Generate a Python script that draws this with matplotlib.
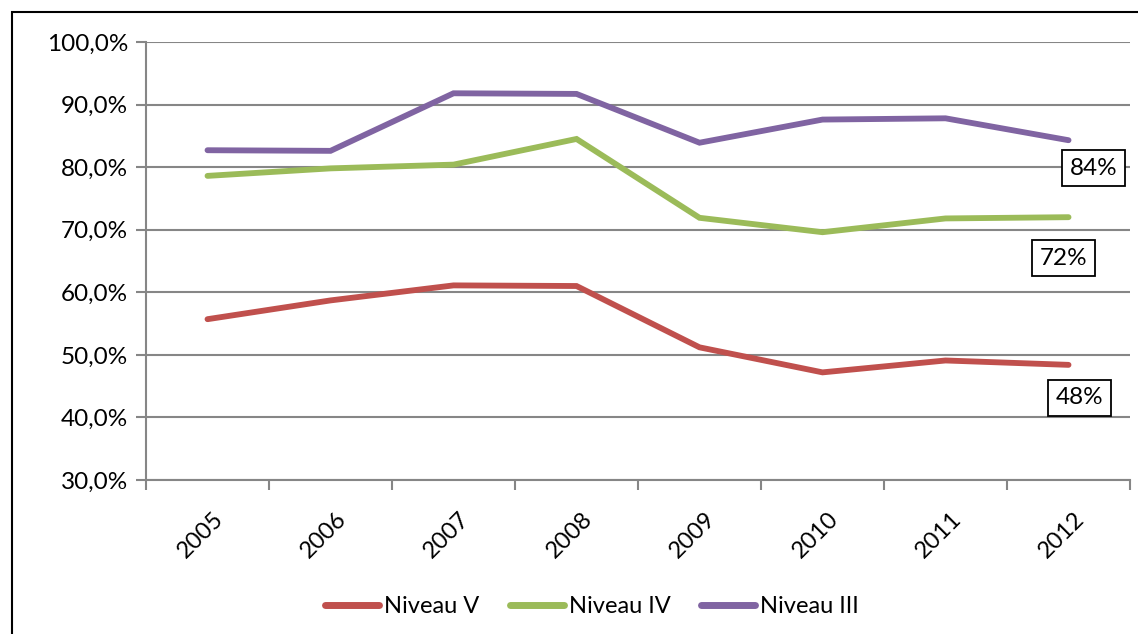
import matplotlib.pyplot as plt
import matplotlib.transforms as mtransforms
from matplotlib.patches import Rectangle

years = ['2005', '2006', '2007', '2008', '2009', '2010', '2011', '2012']
niveau_v = [55.7, 58.7, 61.1, 61.0, 51.2, 47.2, 49.1, 48.4]
niveau_iv = [78.6, 79.8, 80.4, 84.5, 71.9, 69.6, 71.8, 72.0]
niveau_iii = [82.7, 82.6, 91.8, 91.7, 83.9, 87.6, 87.8, 84.3]
y_ticks = [30, 40, 50, 60, 70, 80, 90, 100]
end_labels = ['48%', '72%', '84%']

plt.rcParams['font.family'] = ['Lato', 'DejaVu Sans']

fig = plt.figure(figsize=(11.38, 6.34), dpi=100)
ax = fig.add_axes([0.1283, 0.2429, 0.8647, 0.6909])

grid_col = '#868686'
x = list(range(len(years)))
series = [
    ('Niveau V', niveau_v, '#C0504D'),
    ('Niveau IV', niveau_iv, '#9BBB59'),
    ('Niveau III', niveau_iii, '#8064A2'),
]
for name, vals, col in series:
    ax.plot(x, vals, color=col, linewidth=4.2, label=name,
            solid_capstyle='round', solid_joinstyle='miter')

ax.set_xlim(-0.5, len(years) - 0.5)
ax.set_ylim(30, 100)
ax.set_yticks(y_ticks)
ax.set_yticklabels([f'{t:.1f}%'.replace('.', ',') for t in y_ticks],
                   fontsize=17.5)
ax.yaxis.grid(True, color=grid_col, linewidth=1.5)
ax.set_axisbelow(True)

# category boundaries carry the ticks, labels sit at the centres
ax.set_xticks([i - 0.5 for i in range(len(years) + 1)])
ax.set_xticklabels([])
ax.set_xticks(x, minor=True)
ax.set_xticklabels(years, minor=True, rotation=45, ha='right', va='top',
                   fontsize=17)
ax.tick_params(axis='x', which='minor', length=0, pad=20)
ax.tick_params(axis='x', which='major', length=7, width=1.5, color=grid_col,
               direction='out')
ax.tick_params(axis='y', length=7, width=1.5, color=grid_col, pad=6)
shift = mtransforms.ScaledTranslation(0.2, 0, fig.dpi_scale_trans)
for lab in ax.get_xticklabels(minor=True):
    lab.set_transform(lab.get_transform() + shift)

for side in ['top', 'right']:
    ax.spines[side].set_visible(False)
for side in ['left', 'bottom']:
    ax.spines[side].set_color(grid_col)
    ax.spines[side].set_linewidth(1.5)

# boxed end labels
offsets = [(11, -33), (-5, -41), (25, -28)]
for (name, vals, col), lab, off in zip(series, end_labels, offsets):
    ax.annotate(lab, xy=(x[-1], vals[-1]), xytext=off,
                textcoords='offset pixels', ha='center', va='center',
                fontsize=17.5,
                bbox=dict(boxstyle='square,pad=0.3', fc='white',
                          ec='black', lw=1.3))

leg = fig.legend(loc='center', bbox_to_anchor=(0.52, 0.043), ncol=3,
                 frameon=False, fontsize=17, handlelength=2.3,
                 columnspacing=1.3, handletextpad=0.2)
for line in leg.get_lines():
    line.set_linewidth(5)

fig.patches.append(Rectangle((12 / 1138, -0.1), 1.2, 1 - 12 / 634 + 0.1,
                             transform=fig.transFigure, fill=False,
                             ec='black', lw=1.5))

fig.savefig('out.png', dpi=100)
